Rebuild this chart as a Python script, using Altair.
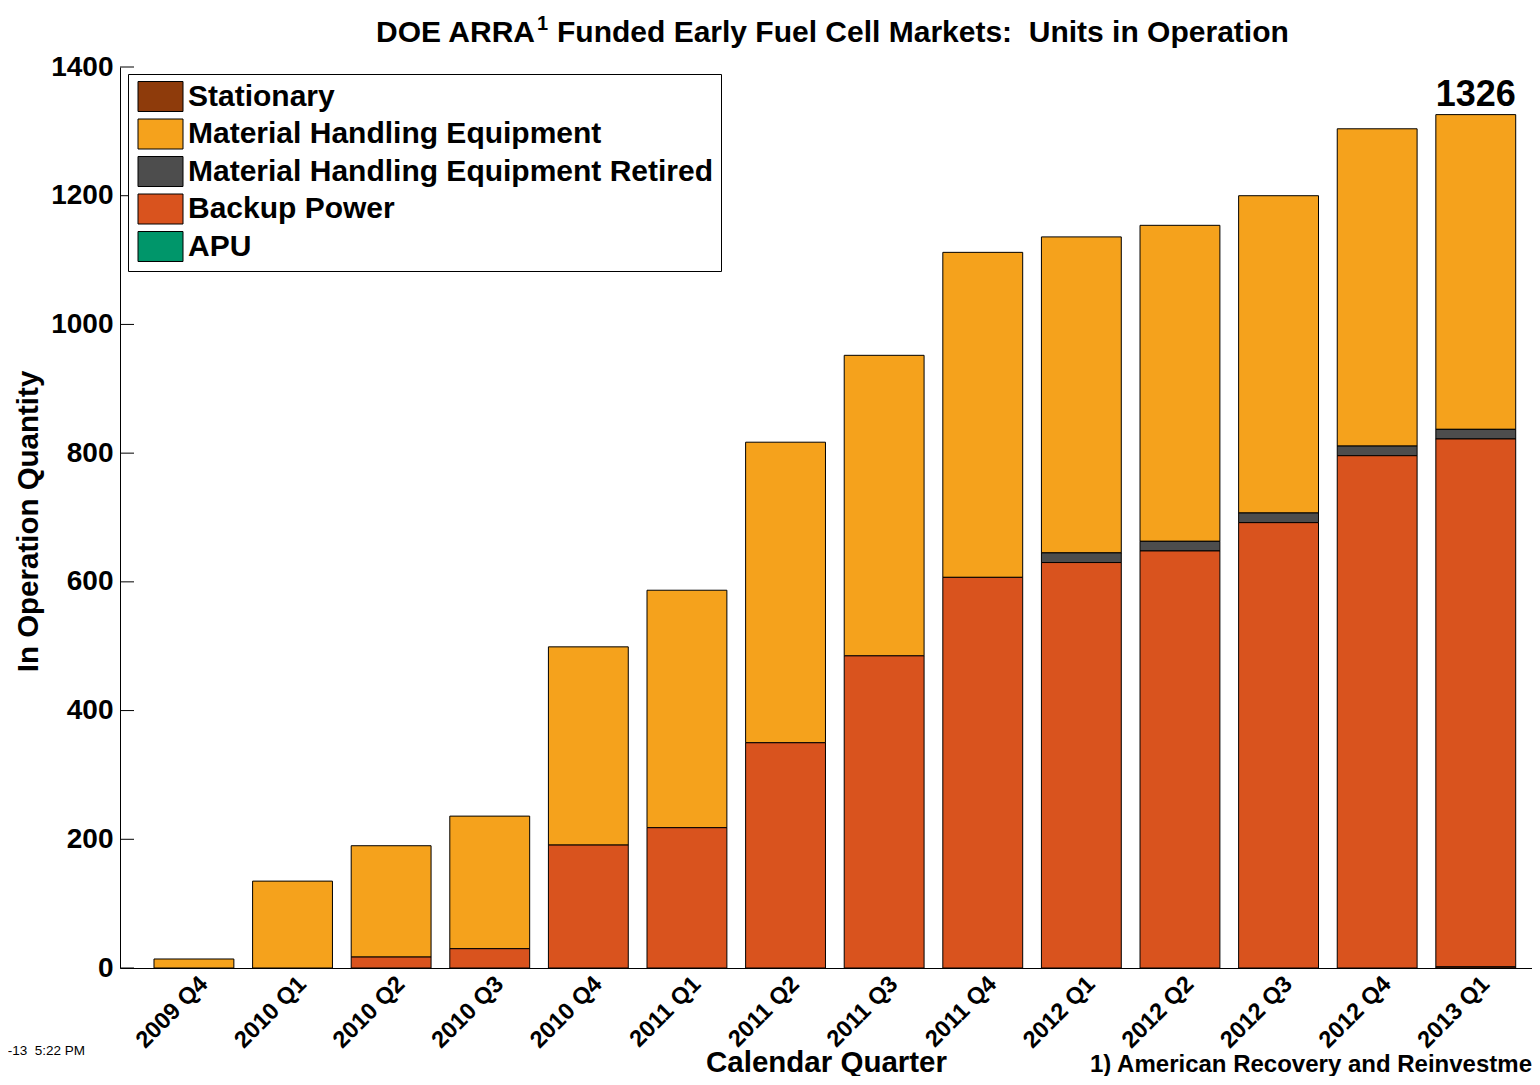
import altair as alt
import pandas as pd

quarters = ["2009 Q4", "2010 Q1", "2010 Q2", "2010 Q3", "2010 Q4", "2011 Q1", "2011 Q2",
            "2011 Q3", "2011 Q4", "2012 Q1", "2012 Q2", "2012 Q3", "2012 Q4", "2013 Q1"]
stationary = [0, 0, 0, 0, 0, 0, 0, 0, 0, 0, 0, 0, 0, 2]
backup_power = [0, 0, 17, 30, 191, 218, 350, 485, 607, 630, 648, 692, 796, 820]
mhe_retired = [0, 0, 0, 0, 0, 0, 0, 0, 0, 15, 15, 15, 15, 15]
mhe = [14, 135, 173, 206, 308, 369, 467, 467, 505, 491, 491, 493, 493, 489]
apu = [0, 0, 0, 0, 0, 0, 0, 0, 0, 0, 0, 0, 0, 0]

categories = ["Stationary", "Material Handling Equipment",
              "Material Handling Equipment Retired", "Backup Power", "APU"]
colors = ["#8E3B0B", "#F5A21C", "#4D4D4D", "#D9531E", "#00966A"]
stack_rank = {"Stationary": 0, "Backup Power": 1,
              "Material Handling Equipment Retired": 2,
              "Material Handling Equipment": 3, "APU": 4}
series = {"Stationary": stationary, "Material Handling Equipment": mhe,
          "Material Handling Equipment Retired": mhe_retired,
          "Backup Power": backup_power, "APU": apu}

y_ticks = [0, 200, 400, 600, 800, 1000, 1200, 1400]
total_label = "1326"
title_main = "DOE ARRA"
title_sup = "1"
title_rest = "Funded Early Fuel Cell Markets:\u00a0 Units in Operation"
footnote = "1) American Recovery and Reinvestment Act"
timestamp = "-13\u00a0 5:22 PM"

rows = []
for cat, vals in series.items():
    for q, v in zip(quarters, vals):
        if v > 0:
            rows.append({"quarter": q, "category": cat, "value": v, "rank": stack_rank[cat]})
df = pd.DataFrame(rows)

FONT = "Liberation Sans"
W, H = 1412, 901

x_enc = alt.X("quarter:N", sort=quarters, title="Calendar Quarter",
              scale=alt.Scale(paddingInner=0.19, paddingOuter=0.255, align=0.676),
              axis=alt.Axis(labelAngle=-45, labelFont=FONT, labelFontSize=23.5,
                            labelFontWeight="bold", labelColor="black",
                            labelAlign="right", labelBaseline="middle",
                            labelOffset=10, labelPadding=12, ticks=False, tickSize=0,
                            domainColor="black", domainWidth=1, grid=False,
                            titleFont=FONT, titleFontSize=29.5, titleFontWeight="bold",
                            titleColor="black", titleY=103, titleBaseline="alphabetic"))
y_scale = alt.Scale(domain=[0, 1400], nice=False)

bars = alt.Chart(df).mark_bar(stroke="black", strokeWidth=1).encode(
    x=x_enc,
    y=alt.Y("value:Q", stack="zero", scale=y_scale, title="In Operation Quantity",
            axis=alt.Axis(values=y_ticks, format="d", labelFont=FONT, labelFontSize=28,
                          labelFontWeight="bold", labelColor="black", labelPadding=7,
                          ticks=False, tickSize=0, grid=False, domainColor="black",
                          titleFont=FONT, titleFontSize=29.5, titleFontWeight="bold",
                          titleColor="black", titleX=-92, titleY=454,
                          titleAlign="center", titleBaseline="middle")),
    color=alt.Color("category:N", scale=alt.Scale(domain=categories, range=colors),
                    legend=alt.Legend(title=None, orient="none", legendX=8, legendY=7,
                                      direction="vertical",
                                      symbolType="M-1.5,-1H1.5V1H-1.5Z", symbolSize=900,
                                      symbolStrokeColor="black", symbolStrokeWidth=1,
                                      symbolOpacity=1, symbolOffset=10,
                                      labelFont=FONT, labelFontSize=30,
                                      labelFontWeight="bold", labelColor="black",
                                      labelOffset=12, labelLimit=0, rowPadding=2.5,
                                      padding=7, strokeColor="black", fillColor="white")),
    order=alt.Order("rank:Q", sort="ascending"),
)

tick_df = pd.DataFrame({"v": y_ticks})
ticks = alt.Chart(tick_df).mark_rule(color="black", strokeWidth=1).encode(
    y=alt.Y("v:Q", scale=y_scale),
    x=alt.value(0), x2=alt.value(14),
)

label_df = pd.DataFrame({"quarter": [quarters[-1]],
                         "total": [sum(s[-1] for s in series.values())],
                         "text": [total_label]})
top_label = alt.Chart(label_df).mark_text(font=FONT, fontSize=36, fontWeight="bold",
                                          color="black", baseline="alphabetic",
                                          dy=-9).encode(
    x=alt.X("quarter:N", sort=quarters),
    y=alt.Y("total:Q", scale=y_scale),
    text="text:N",
)


def note(text, x, y, size, weight="bold", align="left"):
    return alt.Chart(pd.DataFrame({"t": [text]})).mark_text(
        font=FONT, fontSize=size, fontWeight=weight, color="black",
        align=align, baseline="alphabetic").encode(
        x=alt.value(x), y=alt.value(y), text="t:N")


t1 = note(title_main, 415, -25, 30, align="right")
t2 = note(title_sup, 417, -37, 20, align="left")
t3 = note(title_rest, 437, -25, 30, align="left")
foot = note(footnote, 970, H + 104, 24)
stamp = note(timestamp, -35, H + 87, 13.5, weight="normal", align="right")

chart = alt.layer(bars, ticks, top_label, t1, t2, t3, foot, stamp).properties(
    width=W, height=H,
    background="white",
    autosize=alt.AutoSizeParams(type="none"),
    padding={"left": 112, "top": 59, "right": 0, "bottom": 108},
).configure_view(stroke="transparent", strokeWidth=0).configure_axis(grid=False)

chart.save("out.html", embed_options={"renderer": "svg", "actions": False})
